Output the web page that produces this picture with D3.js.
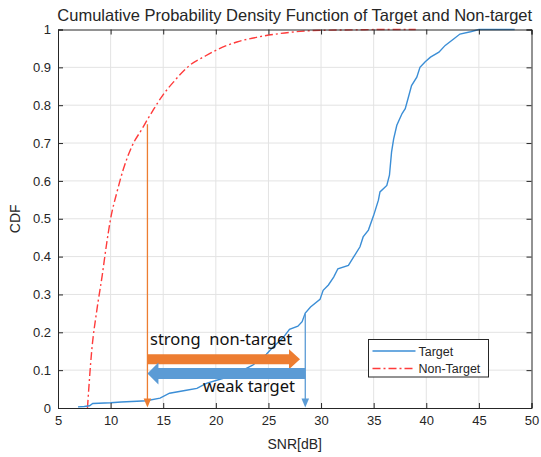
<!DOCTYPE html>
<html>
<head>
<meta charset="utf-8">
<script src="https://cdn.jsdelivr.net/npm/d3@7"></script>
<style>
  html, body { margin: 0; padding: 0; background: #fff; }
  svg { display: block; }
</style>
</head>
<body>
<svg id="chart" width="541" height="457"></svg>
<script>
// Empirical CDF of target SNR (dB)
const targetSNR = [6.9, 7.5, 8.0, 8.3, 10, 11, 12.5, 13.4, 14.7, 15.6, 17.2, 18.2, 19.1, 20.4, 21.5, 22.3, 23.5, 24.8, 25.4, 26.4, 27.0, 27.8, 28.2, 28.5, 29.0, 29.9, 30.2, 30.7, 31.2, 31.6, 32.6, 33.1, 33.7, 34.0, 34.5, 35.0, 35.45, 35.6, 36.25, 36.5, 36.7, 36.9, 37.2, 37.7, 38.0, 38.3, 38.6, 39.1, 39.4, 39.9, 40.4, 41.2, 41.8, 42.6, 43.2, 44.2, 45.0, 48.4];
const targetCDF = [0.003, 0.004, 0.006, 0.012, 0.014, 0.016, 0.018, 0.019, 0.026, 0.039, 0.047, 0.052, 0.065, 0.076, 0.085, 0.096, 0.113, 0.142, 0.16, 0.186, 0.208, 0.216, 0.228, 0.251, 0.267, 0.287, 0.311, 0.325, 0.346, 0.368, 0.377, 0.399, 0.426, 0.452, 0.47, 0.509, 0.549, 0.571, 0.588, 0.615, 0.676, 0.711, 0.747, 0.778, 0.791, 0.821, 0.852, 0.874, 0.9, 0.915, 0.927, 0.94, 0.958, 0.975, 0.988, 0.994, 1.0, 1.0];

// CDF of non-target SNR (dB)
const nonTargetSNR = [7.8, 8.2, 8.7, 9.2, 9.6, 10, 10.6, 11.2, 12, 13, 13.5, 14, 15, 16, 17.5, 19, 20, 22, 24, 26, 28, 30, 33, 36, 39];
const nonTargetCDF = [0, 0.15, 0.26, 0.35, 0.43, 0.5, 0.57, 0.63, 0.69, 0.738, 0.762, 0.785, 0.828, 0.862, 0.905, 0.93, 0.945, 0.967, 0.98, 0.989, 0.995, 0.998, 0.999, 1, 1];

// Axis ticks
const xTicks = [5, 10, 15, 20, 25, 30, 35, 40, 45, 50];
const yTicks = [0, 0.1, 0.2, 0.3, 0.4, 0.5, 0.6, 0.7, 0.8, 0.9, 1];

// Threshold annotations
const strongThreshold = 13.5;   // SNR where the strong non-target region starts
const strongThresholdCDF = 0.75;
const weakThreshold = 28.5;     // SNR where the weak target region ends
const weakThresholdCDF = 0.25;
const strongArrowCDF = 0.129;
const weakArrowCDF = 0.091;

const legendLabels = ["Target", "Non-Target"];

const W = 541, H = 457;
const margin = { left: 58, right: 9.5, top: 29.5, bottom: 49 };
const svg = d3.select("#chart");
const x = d3.scaleLinear().domain([5, 50]).range([margin.left, W - margin.right]);
const y = d3.scaleLinear().domain([0, 1]).range([H - margin.bottom, margin.top]);

const axisColor = "#262626";
const gridColor = "#e3e3e3";
const blue = "#3b8ed6";
const red = "#ff3b3b";
const orangeArrow = "#ed7d31";
const blueArrow = "#5b9bd5";
const font = "'Liberation Sans', Arial, sans-serif";

// Grid
const g = svg.append("g");
g.selectAll(".gx").data(xTicks.slice(1, -1)).join("line")
  .attr("x1", d => x(d)).attr("x2", d => x(d))
  .attr("y1", y(0)).attr("y2", y(1))
  .attr("stroke", gridColor).attr("stroke-width", 1);
g.selectAll(".gy").data(yTicks.slice(1, -1)).join("line")
  .attr("x1", x(5)).attr("x2", x(50))
  .attr("y1", d => y(d)).attr("y2", d => y(d))
  .attr("stroke", gridColor).attr("stroke-width", 1);

// Curves
const targetData = targetSNR.map((v, i) => [v, targetCDF[i]]);
const nonTargetData = nonTargetSNR.map((v, i) => [v, nonTargetCDF[i]]);

svg.append("path").datum(nonTargetData)
  .attr("d", d3.line().x(d => x(d[0])).y(d => y(d[1])).curve(d3.curveMonotoneX))
  .attr("fill", "none").attr("stroke", red).attr("stroke-width", 1.4)
  .attr("stroke-dasharray", "8,3,2,3");

svg.append("path").datum(targetData)
  .attr("d", d3.line().x(d => x(d[0])).y(d => y(d[1])).curve(d3.curveLinear))
  .attr("fill", "none").attr("stroke", blue).attr("stroke-width", 1.4);

// Axes (box with inward ticks on all sides)
const tickLen = 5;
const axB = d3.axisBottom(x).tickValues(xTicks).tickSize(-tickLen).tickPadding(8).tickFormat(d3.format("d"));
const axT = d3.axisTop(x).tickValues(xTicks).tickSize(-tickLen).tickFormat("");
const axL = d3.axisLeft(y).tickValues(yTicks).tickSize(-tickLen).tickPadding(7).tickFormat(d => d === 0 || d === 1 ? String(d) : d3.format(".1f")(d));
const axR = d3.axisRight(y).tickValues(yTicks).tickSize(-tickLen).tickFormat("");

function styleAxis(sel) {
  sel.select(".domain").attr("stroke", axisColor).attr("stroke-width", 1);
  sel.selectAll(".tick line").attr("stroke", axisColor);
  sel.selectAll(".tick text").attr("fill", axisColor).style("font-family", font).style("font-size", "13px");
}
svg.append("g").attr("transform", `translate(0,${y(0)})`).call(axB).call(styleAxis);
svg.append("g").attr("transform", `translate(0,${y(1)})`).call(axT).call(styleAxis);
svg.append("g").attr("transform", `translate(${x(5)},0)`).call(axL).call(styleAxis);
svg.append("g").attr("transform", `translate(${x(50)},0)`).call(axR).call(styleAxis);

// Threshold markers: vertical lines with downward arrowheads
function downArrow(xv, cdfTop, color) {
  const px = x(xv), tip = y(0) - 0.5;
  svg.append("line").attr("x1", px).attr("x2", px)
    .attr("y1", y(cdfTop)).attr("y2", tip - 6)
    .attr("stroke", color).attr("stroke-width", 1.3);
  svg.append("path")
    .attr("d", `M${px - 3.8},${tip - 9} L${px + 3.8},${tip - 9} L${px},${tip} Z`)
    .attr("fill", color);
}
downArrow(strongThreshold, strongThresholdCDF, orangeArrow);
downArrow(weakThreshold, weakThresholdCDF, blueArrow);

// Block arrows
function blockArrow(x0, x1, cdf, shaftH, headH, headL, color) {
  const a = x(x0), b = x(x1), cy = y(cdf);
  const dir = Math.sign(b - a);
  const base = b - dir * headL;
  const p = [
    [a, cy - shaftH / 2], [base, cy - shaftH / 2], [base, cy - headH / 2],
    [b, cy], [base, cy + headH / 2], [base, cy + shaftH / 2], [a, cy + shaftH / 2]
  ];
  svg.append("path").attr("d", "M" + p.map(q => q.join(",")).join("L") + "Z").attr("fill", color);
}
blockArrow(strongThreshold, 28.0, strongArrowCDF, 10, 20, 11, orangeArrow);
blockArrow(weakThreshold, strongThreshold, weakArrowCDF, 11, 22, 11, blueArrow);

const annoFont = "'Noto Sans', 'Open Sans', sans-serif";
svg.append("text").attr("x", 150).attr("y", 345)
  .style("font-family", annoFont).style("font-size", "16.5px").style("white-space", "pre")
  .attr("fill", "#111").text("strong  non-target");
svg.append("text").attr("x", 203).attr("y", 391.5)
  .style("font-family", annoFont).style("font-size", "16.5px")
  .attr("fill", "#111").text("weak target");

// Legend
const lg = svg.append("g").attr("transform", "translate(368.5,339.5)");
lg.append("rect").attr("width", 120).attr("height", 37.5)
  .attr("fill", "#fff").attr("stroke", axisColor).attr("stroke-width", 1);
const lstyles = [{ c: blue, dash: null }, { c: red, dash: "8,3,2,3" }];
legendLabels.forEach((lab, i) => {
  const cy = 11.5 + i * 17.5;
  lg.append("line").attr("x1", 4).attr("x2", 47).attr("y1", cy).attr("y2", cy)
    .attr("stroke", lstyles[i].c).attr("stroke-width", 1.4)
    .attr("stroke-dasharray", lstyles[i].dash);
  lg.append("text").attr("x", 50).attr("y", cy + 4.5)
    .style("font-family", font).style("font-size", "12.5px").attr("fill", axisColor).text(lab);
});

// Title and axis labels
svg.append("text").attr("x", (x(5) + x(50)) / 2).attr("y", 21)
  .attr("text-anchor", "middle").style("font-family", font).style("font-size", "16.5px")
  .attr("fill", axisColor).text("Cumulative Probability Density Function of Target and Non-target");
svg.append("text").attr("x", (x(5) + x(50)) / 2).attr("y", 449)
  .attr("text-anchor", "middle").style("font-family", font).style("font-size", "14px")
  .attr("fill", axisColor).text("SNR[dB]");
svg.append("text").attr("transform", `translate(20,${(y(0) + y(1)) / 2}) rotate(-90)`)
  .attr("text-anchor", "middle").style("font-family", font).style("font-size", "14px")
  .attr("fill", axisColor).text("CDF");
</script>
</body>
</html>
